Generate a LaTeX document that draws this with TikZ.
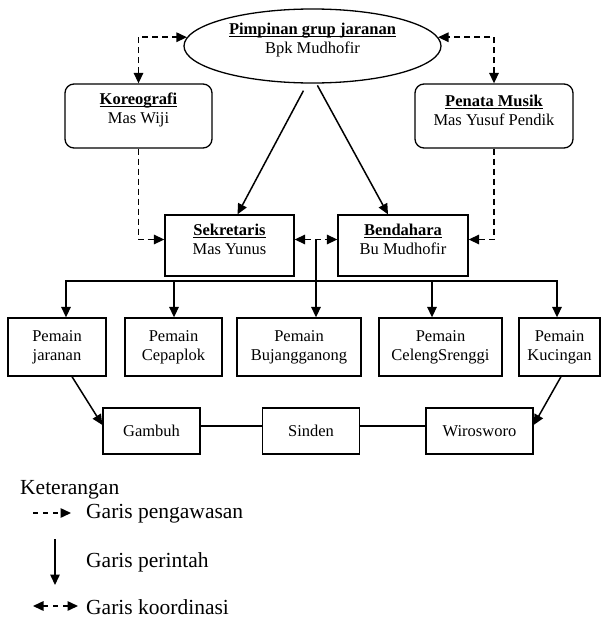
\documentclass[tikz,border=0pt]{standalone}
\usepackage{fontspec}
\setmainfont{Liberation Serif}
\usetikzlibrary{arrows.meta,shapes.geometric}

\newcommand{\garisbawah}[1]{\textbf{\underline{\smash{#1}}}}

\tikzset{
	kotak/.style={draw, line width=1.3pt, inner sep=1pt, align=center, font=\fontsize{16.5}{19}\selectfont},
	kotakbulat/.style={kotak, rounded corners=9pt},
	ujung/.tip={Triangle[length=10.5pt,width=9.5pt]},
	perintah/.style={line width=1.5pt, -ujung},
	awas/.style={perintah, dash pattern=on 6pt off 4pt},
	koordinasi/.style={awas, ujung-ujung},
	ket/.style={anchor=west, inner sep=0pt, font=\fontsize{21.5}{24}\selectfont},
}

\begin{document}
\begin{tikzpicture}[x=1pt,y=-1pt]
		\useasboundingbox (0,0) rectangle (601,621);
		\pgfmathsetmacro{\baris}{347}
		\pgfmathsetmacro{\bawah}{431}
		
		\node[kotak, ellipse, minimum width=257pt, minimum height=74pt, inner sep=0pt] (pimpinan) at (312.5,46)
			{\garisbawah{Pimpinan grup jaranan}\\Bpk Mudhofir};
		\node[kotakbulat, minimum width=147pt, minimum height=64pt] (koreo) at (138.5,116)
			{\garisbawah{Koreografi}\\Mas Wiji};
		\node[kotakbulat, minimum width=158pt, minimum height=64pt] (penata) at (494,116)
			{\garisbawah{Penata Musik}\\Mas Yusuf Pendik};
		\node[kotak, minimum width=129pt, minimum height=61pt] (sekret) at (229.5,245.5)
			{\garisbawah{Sekretaris}\\Mas Yunus};
		\node[kotak, minimum width=130pt, minimum height=61pt] (bendahara) at (403,245.5)
			{\garisbawah{Bendahara}\\Bu Mudhofir};
		
		\foreach \n/\x/\w/\t in {pjaranan/57/98/jaranan, pcepaplok/173.5/97/Cepaplok, pbujang/299/124/Bujangganong, pceleng/440.5/123/CelengSrenggi, pkucing/559.5/81/Kucingan}
			\node[kotak, minimum width=\w pt, minimum height=58pt] (\n) at (\x,\baris) {Pemain\\\t};
		
		\foreach \n/\x/\w/\t in {gambuh/151.5/97/Gambuh, sinden/311/97/Sinden, wiro/479.5/107/Wirosworo}
			\node[kotak, minimum width=\w pt, minimum height=46pt] (\n) at (\x,\bawah) {\t};
		
		\draw[awas, ujung-ujung] (koreo.north) |- (pimpinan.176);
		\draw[awas, ujung-ujung] (penata.north) |- (pimpinan.4);
		\draw[perintah, shorten <=8pt] (pimpinan.262) -- ([xshift=8pt]sekret.north);
		\draw[perintah, shorten <=2pt] (pimpinan.276) -- ([xshift=-15pt]bendahara.north);
		\draw[awas] (koreo.south) |- ([yshift=6pt]sekret.west);
		\draw[awas] (penata.south) |- ([yshift=6pt]bendahara.east);
		
		\draw[koordinasi] ([yshift=6pt]sekret.east) -- ([yshift=6pt]bendahara.west) coordinate[pos=0.5] (tengah);
		\draw[perintah] (tengah) -- (tengah |- pbujang.north);
		
		\coordinate (bus) at (0,281);
		\foreach \n/\dx in {pjaranan/9, pcepaplok/0.5, pceleng/-8.5, pkucing/-2.5}
		{
			\path ([xshift=\dx pt]\n.north) coordinate (atas\n);
			\draw[perintah] (atas\n |- bus) -- (atas\n);
		}
		\draw[line width=1.5pt, line cap=rect] (ataspjaranan |- bus) -- (ataspkucing |- bus);
		
		\draw[perintah] ([xshift=15pt]pjaranan.south) -- ([yshift=6pt]gambuh.west);
		\draw[perintah] ([xshift=1.5pt]pkucing.south) -- ([yshift=6pt]wiro.east);
		\draw[line width=1.3pt] ([yshift=5pt]gambuh.east) -- ([yshift=5pt]sinden.west);
		\draw[line width=1.3pt] ([yshift=5pt]sinden.east) -- ([yshift=5pt]wiro.west);
		
		% keterangan
		\node[ket] (keterangan) at (20,490) {Keterangan};
		\coordinate (awasa) at (33,513);
		\coordinate (awasb) at (71,513);
		\draw[awas, dash pattern=on 5pt off 5pt] (awasa) -- (awasb);
		\node[ket] (ketawas) at (86,514) {Garis pengawasan};
		\coordinate (perintaha) at (55,539);
		\coordinate (perintahb) at (55,585);
		\draw[perintah] (perintaha) -- (perintahb);
		\node[ket] (ketperintah) at (86,562) {Garis perintah};
		\coordinate (koora) at (33,606);
		\coordinate (koorb) at (78,606);
		\draw[koordinasi, dash pattern=on 5pt off 5pt] (koora) -- (koorb);
		\node[ket] (ketkoor) at (86,607) {Garis koordinasi};
	\end{tikzpicture}
\end{document}
